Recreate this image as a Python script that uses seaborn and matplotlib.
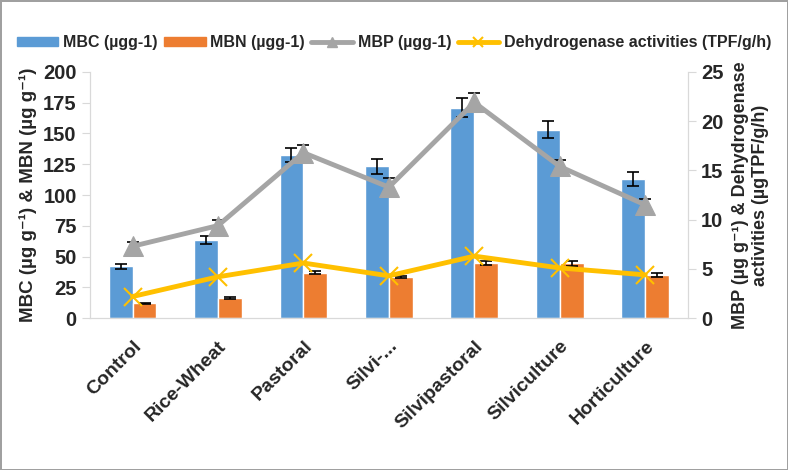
import matplotlib.pyplot as plt
import numpy as np
import pandas as pd
import seaborn as sns
from matplotlib.lines import Line2D
from matplotlib.patches import Patch

systems = ["Control", "Rice-Wheat", "Pastoral", "Silvi-...", "Silvipastoral",
           "Silviculture", "Horticulture"]
mbc = [42, 63.5, 132.5, 123.5, 171, 153, 113]
mbc_err = [2, 3, 6, 6, 8, 7, 6]
mbn = [12, 16.5, 37, 33.5, 45, 44.5, 35]
mbn_err = [0.6, 1, 1.5, 1, 1.5, 2, 1.5]
mbp = [7.3, 9.4, 16.8, 13.3, 21.9, 15.4, 11.5]
mbp_err = [0.4, 0.6, 0.8, 0.9, 1.0, 0.7, 0.6]
dha = [2.2, 4.2, 5.6, 4.3, 6.3, 5.1, 4.4]

BLUE, ORANGE, GRAY, GOLD = "#5B9BD5", "#ED7D31", "#A5A5A5", "#FFC000"
SPINE = "#D9D9D9"

sns.set_style("white")
plt.rcParams["font.family"] = ["Liberation Sans", "DejaVu Sans"]
plt.rcParams["font.weight"] = "bold"

bars = pd.DataFrame({
    "system": systems * 2,
    "var": ["MBC"] * len(systems) + ["MBN"] * len(systems),
    "value": mbc + mbn,
})

fig = plt.figure(figsize=(7.88, 4.70), dpi=100)
fig.patch.set_edgecolor("#A0A0A0")
fig.patch.set_linewidth(2)
ax = fig.add_axes([0.114, 0.323, 0.759, 0.524])

sns.barplot(data=bars, x="system", y="value", hue="var", palette=[BLUE, ORANGE],
            width=0.56, errorbar=None, saturation=1, legend=False, ax=ax)
idx = np.arange(len(systems))
ax.errorbar(idx - 0.14, mbc, yerr=mbc_err, fmt="none", ecolor="black",
            capsize=4, elinewidth=1.2, capthick=1.2)
ax.errorbar(idx + 0.14, mbn, yerr=mbn_err, fmt="none", ecolor="black",
            capsize=4, elinewidth=1.2, capthick=1.2)
ax.set_ylim(0, 200)
ax.set_xlim(-0.5, len(systems) - 0.5)
ax.set_yticks(range(0, 201, 25))
ax.set_xlabel("")
ax.set_ylabel("MBC (µg g⁻¹) & MBN (µg g⁻¹)", fontsize=13.5, fontweight="bold",
              labelpad=4)

ax2 = ax.twinx()
ax2.errorbar(idx, mbp, yerr=mbp_err, fmt="none", ecolor="black",
             capsize=4, elinewidth=1.2, capthick=1.2)
sns.lineplot(x=idx, y=mbp, ax=ax2, color=GRAY, lw=3.5, marker="^",
             markersize=14, markeredgecolor=GRAY)
sns.lineplot(x=idx, y=dha, ax=ax2, color=GOLD, lw=3.5, marker="x",
             markersize=13, markeredgewidth=1.5, markeredgecolor=GOLD)
ax2.set_ylim(0, 25)
ax2.set_yticks(range(0, 26, 5))
ax2.set_ylabel("MBP (µg g⁻¹) & Dehydrogenase\nactivities (µgTPF/g/h)",
               fontsize=13, fontweight="bold", labelpad=6)

for a in (ax, ax2):
    for side in ("left", "right", "bottom"):
        a.spines[side].set_color(SPINE)
    a.spines["top"].set_visible(False)
    a.tick_params(axis="y", labelsize=14.5, length=6, color=SPINE, direction="out")

ax.set_xticks(idx)
ax.set_xticklabels(systems, rotation=45, ha="right", rotation_mode="anchor",
                   fontsize=14, fontweight="bold")
ax.tick_params(axis="x", which="major", length=0, pad=14)
ax.set_xticks(np.arange(-0.5, len(systems), 1), minor=True)
ax.tick_params(axis="x", which="minor", length=5, color=SPINE, direction="out")
ax.tick_params(axis="y", left=True)
ax2.tick_params(axis="y", right=True)

handles = [
    Patch(color=BLUE),
    Patch(color=ORANGE),
    Line2D([], [], color=GRAY, lw=3.5, marker="^", markersize=7),
    Line2D([], [], color=GOLD, lw=3.5, marker="x", markersize=7, markeredgewidth=1.5),
]
labels = ["MBC (µgg-1)", "MBN (µgg-1)", "MBP (µgg-1)",
          "Dehydrogenase activities (TPF/g/h)"]
fig.legend(handles, labels, loc="center", bbox_to_anchor=(0.5, 0.91), ncol=4,
           frameon=False, prop={"size": 11.5, "weight": "bold"}, handlelength=2.6,
           handleheight=0.5, columnspacing=0.4, handletextpad=0.3)

fig.savefig("out.png", dpi=100, edgecolor=fig.get_edgecolor())
